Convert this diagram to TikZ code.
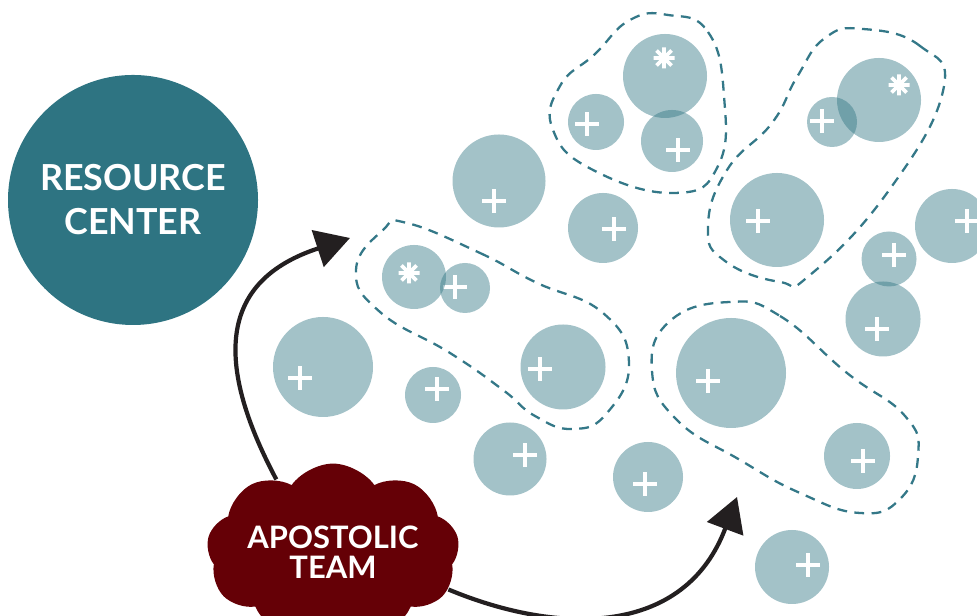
\documentclass[tikz,border=0pt]{standalone}
\usepackage{fontspec}
\setmainfont{Lato}
\usetikzlibrary{arrows.meta,shapes.symbols,calc}
\definecolor{rcteal}{RGB}{46,116,130}
\definecolor{dashteal}{RGB}{52,120,136}
\definecolor{teamred}{RGB}{101,0,6}
\definecolor{inkblack}{RGB}{35,31,32}

\begin{document}
\begin{tikzpicture}[
    bubble/.style={circle,fill=rcteal,fill opacity=0.44,inner sep=0pt},
    markline/.style={white,line width=1.05pt},
    region/.style={dashteal,line width=0.65pt,dash pattern=on 2.8pt off 2.1pt},
    sendarrow/.style={inkblack,line width=1.2pt,-{Triangle[length=3.4mm,width=3.8mm]}}
]
    \useasboundingbox (0,0) rectangle (9.77,6.16);
    \clip (0,0) rectangle (9.77,6.16);

    % Resource center
    \node[circle,fill=rcteal,minimum size=2.5cm,text=white,align=center,
          font=\fontsize{10.2}{12.5}\selectfont\bfseries] (rc) at (1.33,4.16) {RESOURCE\\CENTER};

    % Churches with a plus
    \foreach \n/\x/\y/\d/\mx/\my in {t2/5.96/4.94/0.56/-0.09/-0.02, t3/6.72/4.75/0.62/0.06/-0.09,
        b5/4.99/4.35/0.93/-0.05/-0.20, b6/6.03/3.88/0.70/0.11/-0.01,
        r2/8.32/4.94/0.50/-0.10/0.01, r3/7.77/3.96/0.94/-0.19/-0.01,
        e1/9.52/3.90/0.74/0.15/0.05, e2/8.89/3.57/0.55/0.05/0.04, e3/8.83/2.97/0.75/-0.06/-0.10,
        d1/7.31/2.43/1.10/-0.23/-0.08, d2/8.57/1.60/0.66/0.06/-0.05,
        f1/6.48/1.39/0.70/-0.03/-0.07, f2/7.92/0.49/0.74/0.16/0.02,
        l2/4.65/3.28/0.50/-0.10/0.01, l3/5.63/2.49/0.85/-0.23/-0.02,
        g1/4.33/2.21/0.56/0.04/0.06, g2/3.23/2.49/1.00/-0.23/-0.11, g3/5.10/1.57/0.73/0.15/0.04} {
        \node[bubble,minimum size=\d cm] (\n) at (\x,\y) {};
        \draw[markline] ($(\n)+(\mx,\my)$) +(-0.12,0) -- +(0.12,0) +(0,-0.12) -- +(0,0.12);
    }

    % Churches with a star
    \foreach \n/\x/\y/\d/\mx/\my in {t1/6.65/5.40/0.84/-0.01/0.18, r1/8.79/5.16/0.84/0.20/0.15,
        l1/4.14/3.39/0.64/-0.05/0.04} {
        \node[bubble,minimum size=\d cm] (\n) at (\x,\y) {};
        \draw[markline] ($(\n)+(\mx,\my)$) +(-0.105,0) -- +(0.105,0) +(0,-0.105) -- +(0,0.105)
            +(-0.075,-0.075) -- +(0.075,0.075) +(-0.075,0.075) -- +(0.075,-0.075);
    }

    % Networks
    \draw[region] plot[smooth cycle,tension=0.8] coordinates {(6.68,6.01) (7.08,5.84) (7.24,5.20)
        (7.18,4.50) (6.75,4.23) (5.93,4.46) (5.53,4.86) (5.60,5.30) (5.95,5.62) (6.30,5.96)};
    \draw[region] plot[smooth cycle,tension=0.8] coordinates {(8.63,5.87) (9.20,5.70) (9.43,5.25)
        (8.87,4.23) (8.10,3.41) (7.80,3.34) (7.25,3.55) (7.08,3.89) (7.27,4.46) (7.72,4.93)
        (7.97,5.39) (8.25,5.78)};
    \draw[region] plot[smooth cycle,tension=0.8] coordinates {(4.07,3.93) (4.80,3.63) (5.35,3.34)
        (6.03,3.03) (6.29,2.53) (6.07,2.03) (5.73,1.87) (5.35,2.00) (5.03,2.26) (4.50,2.63)
        (3.80,3.04) (3.56,3.46) (3.83,3.86)};
    \draw[region] plot[smooth cycle,tension=0.8] coordinates {(7.30,3.14) (7.80,3.00) (8.47,2.43)
        (9.05,2.00) (9.18,1.60) (9.00,1.17) (8.60,1.03) (8.00,1.23) (7.40,1.56) (6.77,1.96)
        (6.52,2.45) (6.70,2.95)};

    % Apostolic team
    \node[cloud,cloud puffs=9,cloud puff arc=110,aspect=1.7,inner sep=0pt,fill=teamred,text=white,
          align=center,font=\fontsize{8.8}{8.6}\selectfont\bfseries] (team) at (3.33,0.64) {APOSTOLIC\\TEAM};

    % Sending
    \coordinate (spot1) at (3.50,3.78);
    \coordinate (spot2) at (7.37,1.19);
    \draw[sendarrow] (team.128) .. controls (2.0,2.8) and (2.4,3.42) .. (spot1);
    \draw[sendarrow] (team.-18) .. controls (5.6,-0.2) and (6.85,-0.2) .. (spot2);
\end{tikzpicture}
\end{document}
